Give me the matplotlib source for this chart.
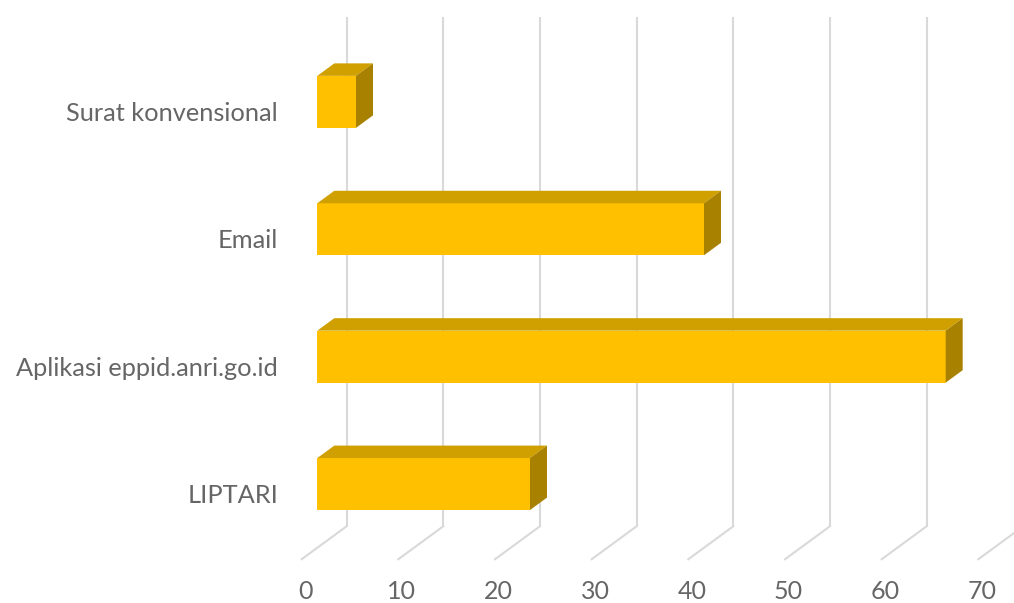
import matplotlib
matplotlib.use("Agg")
import matplotlib.pyplot as plt
from matplotlib.patches import Polygon

categories = ["LIPTARI", "Aplikasi eppid.anri.go.id", "Email", "Surat konvensional"]
values = [22, 65, 40, 4]
ticks = [0, 10, 20, 30, 40, 50, 60, 70]

FRONT = "#FFC000"
TOP = "#CFA000"
SIDE = "#A98100"
GRID = "#D9D9D9"
TEXT = "#666666"

W, H = 1014, 603
fig = plt.figure(figsize=(W / 100, H / 100), dpi=100)
ax = fig.add_axes([0, 0, 1, 1])
ax.set_axis_off()

# pixel scales (oblique projection)
x0_px = 301.7          # value 0 at front plane
px_per_val = 9.667
y0_px = 495.5          # category 0 at front plane (from top)
px_per_cat = 127.4
ax.set_xlim((0 - x0_px) / px_per_val, (W - x0_px) / px_per_val)
ax.set_ylim((y0_px - H) / px_per_cat, y0_px / px_per_cat)

ddx = 45 / px_per_val      # full depth offset in value units
ddy = 33 / px_per_cat      # full depth offset in category units
d0, d1 = 0.347, 0.725      # bar depth range
h = 52 / px_per_cat        # bar thickness
ylo, yhi = -0.5, len(categories) - 0.5

# back wall gridlines and floor lines
for v in ticks:
    ax.plot([v + ddx, v + ddx], [ylo + ddy, yhi + ddy], color=GRID, lw=1.5, zorder=1,
            solid_capstyle="butt")
    ax.plot([v, v + ddx], [ylo, ylo + ddy], color=GRID, lw=1.5, zorder=1)
    ax.text(v + 0.35, (y0_px - 591.5) / px_per_cat, str(v), ha="center", va="center",
            fontsize=18, color=TEXT, family="Lato")

cats = list(range(len(categories)))
bx = d0 * ddx
by = d0 * ddy
bdx = (d1 - d0) * ddx
bdy = (d1 - d0) * ddy
ax.barh([c + by for c in cats], values, left=bx, height=h, color=FRONT, zorder=3)
for c, v in zip(cats, values):
    left, right = bx, bx + v
    bot, top = c + by - h / 2, c + by + h / 2
    ax.add_patch(Polygon([(left, top), (right, top), (right + bdx, top + bdy), (left + bdx, top + bdy)],
                         closed=True, facecolor=TOP, edgecolor="none", zorder=3))
    ax.add_patch(Polygon([(right, bot), (right, top), (right + bdx, top + bdy), (right + bdx, bot + bdy)],
                         closed=True, facecolor=SIDE, edgecolor="none", zorder=3))
    ax.text((278 - x0_px) / px_per_val, c, categories[c], ha="right", va="center",
            fontsize=18.3, color=TEXT, family="Lato")

fig.savefig("out.png", dpi=100)
